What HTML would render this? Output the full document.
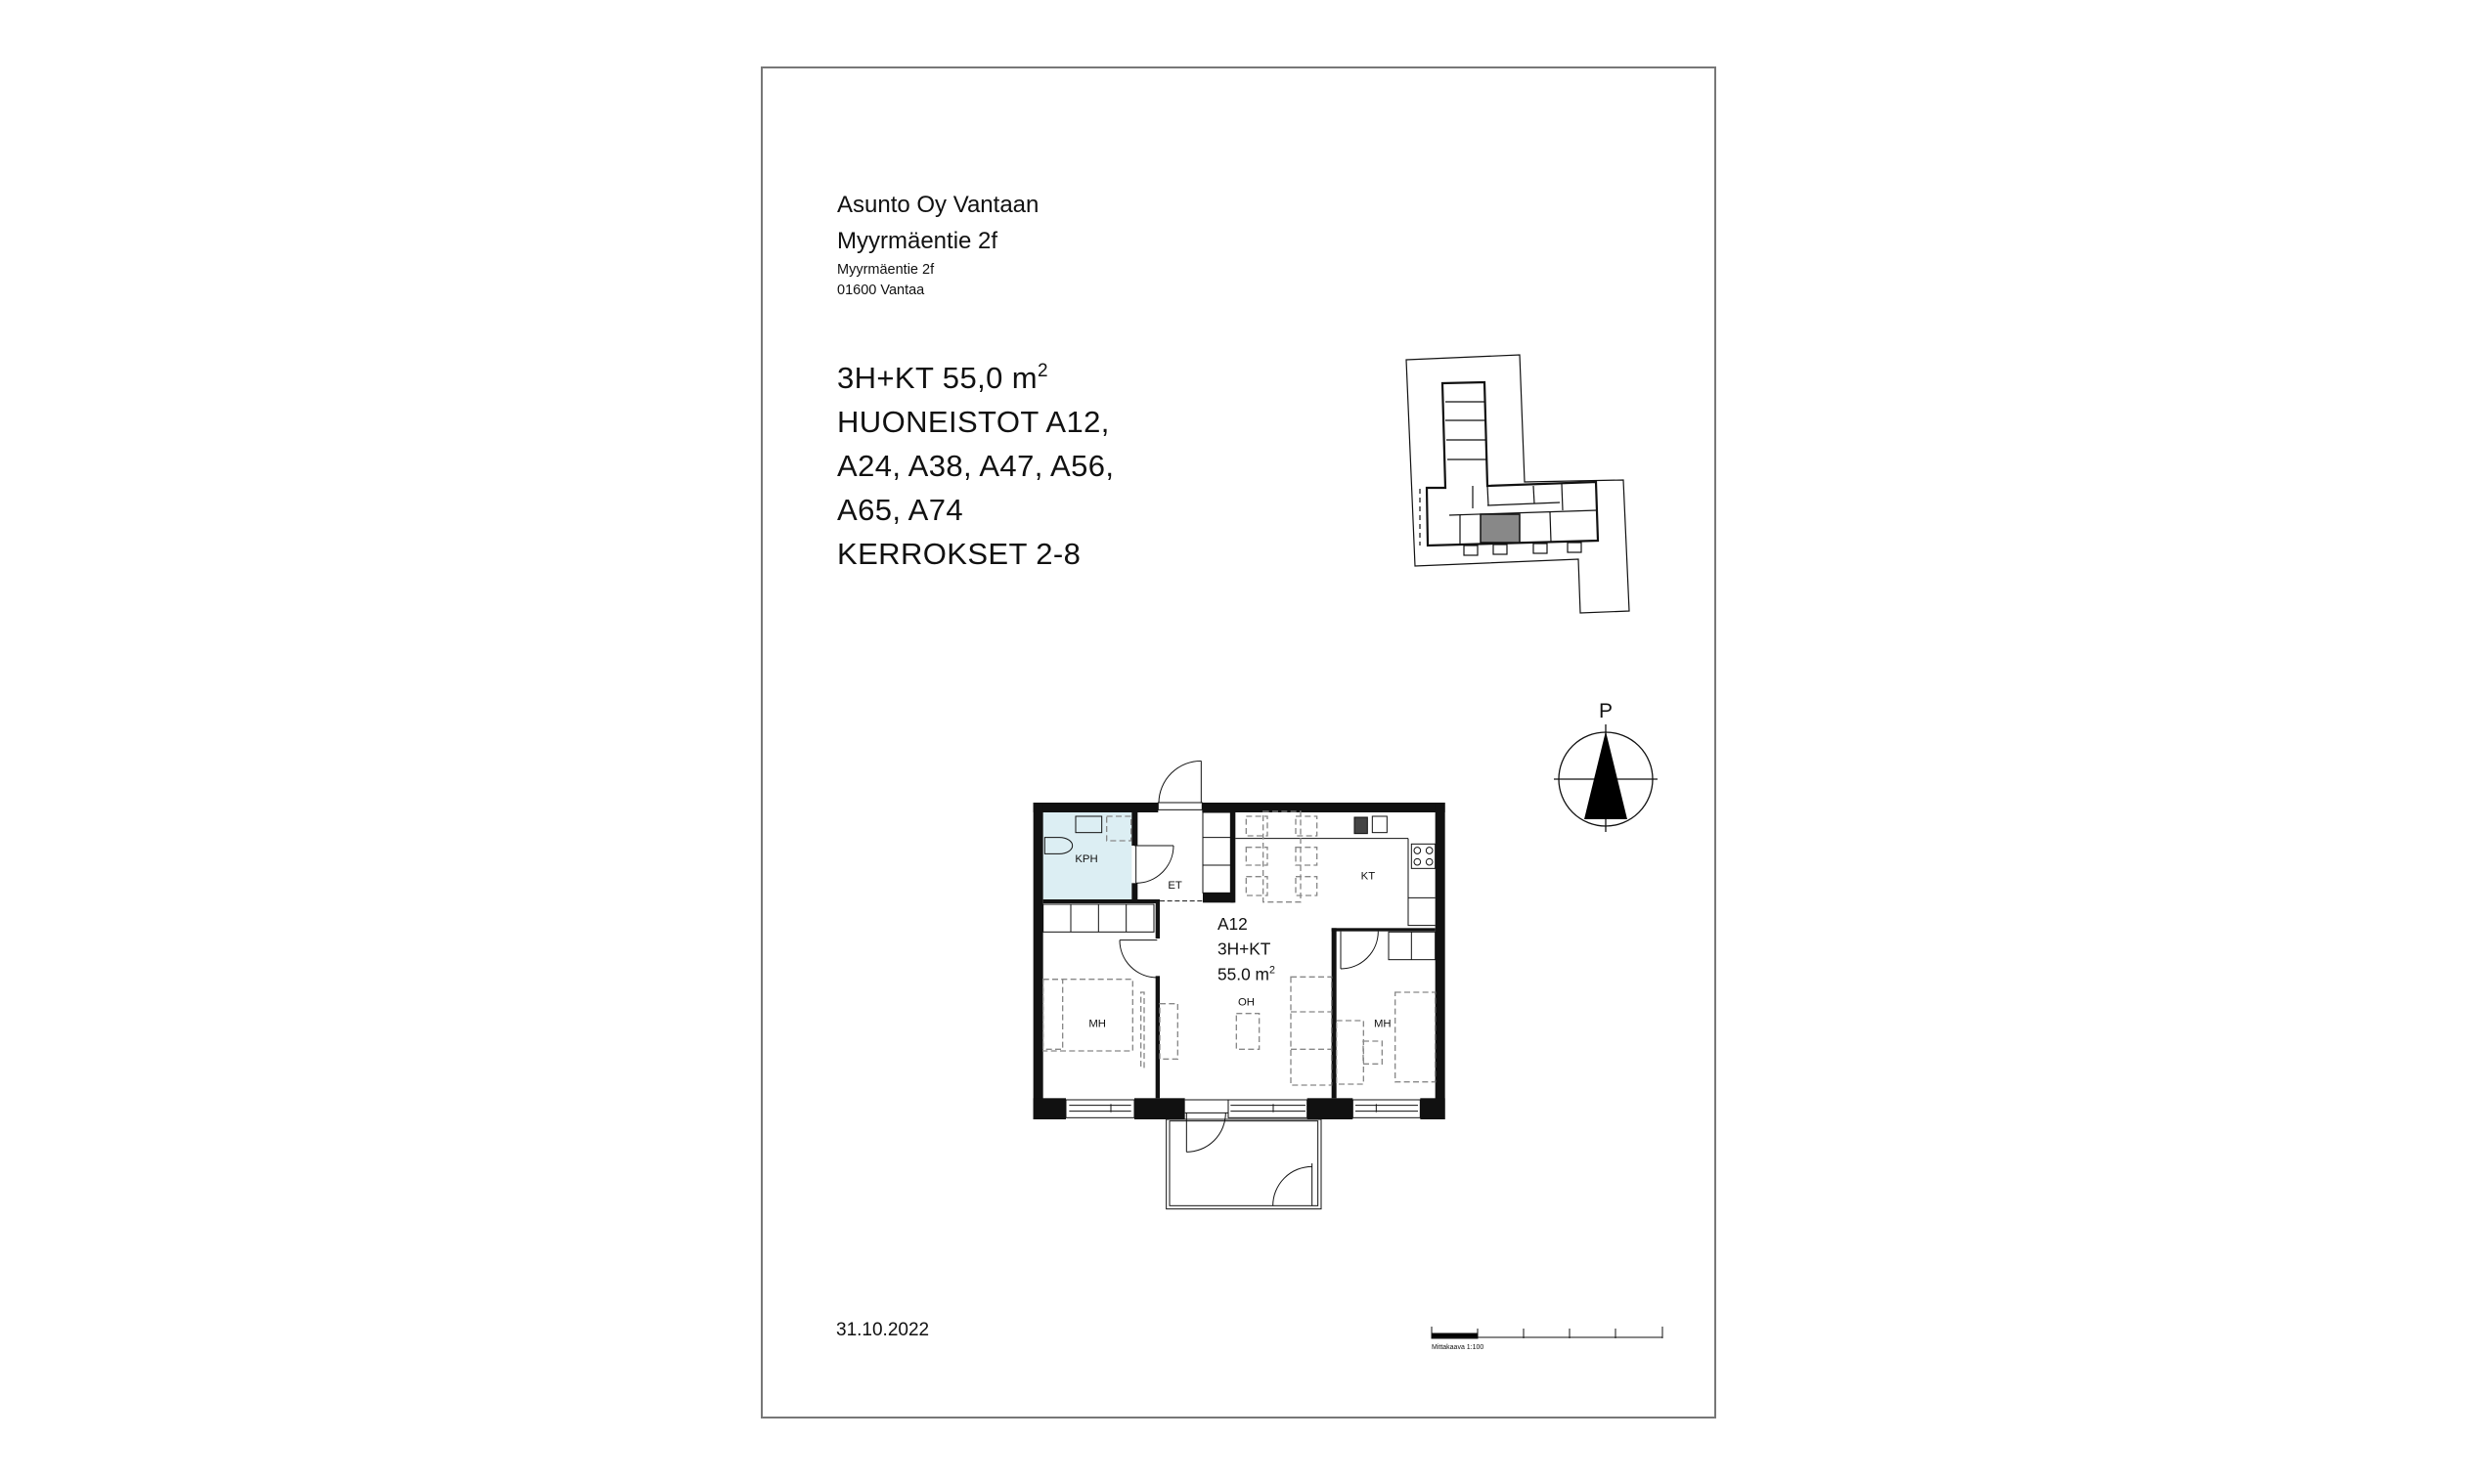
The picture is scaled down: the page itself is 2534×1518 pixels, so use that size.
<!DOCTYPE html>
<html><head><meta charset="utf-8"><style>
html,body{margin:0;padding:0;background:#fff;}
svg{display:block;}
text{font-family:"Liberation Sans",sans-serif;fill:#111;}
</style></head><body>
<svg width="2534" height="1518" viewBox="0 0 2534 1518" xmlns="http://www.w3.org/2000/svg">
<rect x="779" y="69" width="975" height="1381" fill="none" stroke="#777" stroke-width="2"/>

<text x="856" y="217" font-size="24">Asunto Oy Vantaan</text>
<text x="856" y="254" font-size="24">Myyrmäentie 2f</text>
<text x="856" y="280" font-size="14.5">Myyrmäentie 2f</text>
<text x="856" y="301" font-size="14.5">01600 Vantaa</text>

<g letter-spacing="0.4">
<text x="856" y="397" font-size="31">3H+KT 55,0 m<tspan font-size="19" dy="-12">2</tspan></text>
<text x="856" y="442" font-size="31">HUONEISTOT A12,</text>
<text x="856" y="487" font-size="31">A24, A38, A47, A56,</text>
<text x="856" y="532" font-size="31">A65, A74</text>
<text x="856" y="577" font-size="31">KERROKSET 2-8</text>
</g>

<!-- key plan -->
<g fill="none" stroke="#111">
<polygon points="1438,368 1554,363 1559,493 1660,491 1666,625 1616,627 1614,572 1447,579" stroke-width="1.2"/>
<polygon points="1475,392 1518,391 1521,497 1632,493 1634,553 1460,558 1459,499 1478,499" stroke-width="2.2"/>
<rect x="1514" y="526" width="40" height="29" fill="#888" stroke-width="1.5"/>
<line x1="1478" y1="411" x2="1518" y2="411" stroke-width="1.2"/>
<line x1="1478" y1="430" x2="1518" y2="430" stroke-width="1.2"/>
<line x1="1479" y1="450" x2="1519" y2="450" stroke-width="1.2"/>
<line x1="1480" y1="470" x2="1520" y2="470" stroke-width="1.2"/>
<line x1="1521" y1="497" x2="1522" y2="517" stroke-width="1.2"/>
<line x1="1521" y1="517" x2="1595" y2="514" stroke-width="1.2"/>
<line x1="1568" y1="497" x2="1569" y2="515" stroke-width="1.2"/>
<line x1="1597" y1="495" x2="1598" y2="522" stroke-width="1.2"/>
<line x1="1482" y1="527" x2="1633" y2="522" stroke-width="1.2"/>
<line x1="1493" y1="527" x2="1493" y2="556" stroke-width="1.2"/>
<line x1="1585" y1="524" x2="1586" y2="554" stroke-width="1.2"/>
<line x1="1506" y1="497" x2="1506" y2="520" stroke-width="1.2"/>
<line x1="1452" y1="500" x2="1452" y2="558" stroke-width="1.2" stroke-dasharray="5 4"/>
<rect x="1497" y="558" width="14" height="10" stroke-width="1.2"/>
<rect x="1527" y="557" width="14" height="10" stroke-width="1.2"/>
<rect x="1568" y="556" width="14" height="10" stroke-width="1.2"/>
<rect x="1603" y="555" width="14" height="10" stroke-width="1.2"/>
</g>

<!-- compass -->
<text x="1642" y="734" font-size="21" text-anchor="middle">P</text>
<circle cx="1642" cy="797" r="48" fill="none" stroke="#111" stroke-width="1.3"/>
<line x1="1589" y1="797" x2="1695" y2="797" stroke="#111" stroke-width="1.3"/>
<line x1="1642" y1="741" x2="1642" y2="851" stroke="#111" stroke-width="1.3"/>
<polygon points="1642,748 1620,838 1664,838" fill="#000"/>

<!-- date and scale bar -->
<text x="855" y="1366" font-size="19">31.10.2022</text>
<g stroke="#111" stroke-width="1">
<rect x="1464" y="1364" width="47" height="5" fill="#000"/>
<line x1="1464" y1="1368" x2="1700" y2="1368"/>
<line x1="1464" y1="1357" x2="1464" y2="1369"/><line x1="1511" y1="1359" x2="1511" y2="1369"/>
<line x1="1558" y1="1359" x2="1558" y2="1369"/><line x1="1605" y1="1359" x2="1605" y2="1369"/>
<line x1="1652" y1="1359" x2="1652" y2="1369"/><line x1="1700" y1="1357" x2="1700" y2="1369"/>
</g>
<text x="1464" y="1380" font-size="7">Mittakaava 1:100</text>

<!-- floor plan -->
<g transform="translate(1050,760) scale(0.33333)">
<rect x="50" y="213" width="272" height="267" fill="#dceef3"/>
<g fill="#111">
<rect x="20" y="183" width="383" height="30"/>
<rect x="538" y="183" width="745" height="30"/>
<rect x="20" y="183" width="30" height="972"/>
<rect x="1253" y="183" width="30" height="972"/>
<rect x="20" y="1090" width="100" height="65"/>
<rect x="330" y="1090" width="155" height="65"/>
<rect x="860" y="1090" width="140" height="65"/>
<rect x="1207" y="1090" width="76" height="65"/>
<rect x="322" y="213" width="18" height="102"/>
<rect x="322" y="430" width="18" height="62"/>
<rect x="50" y="480" width="358" height="12"/>
<rect x="395" y="480" width="13" height="120"/>
<rect x="395" y="715" width="13" height="375"/>
<rect x="625" y="213" width="15" height="277"/>
<rect x="540" y="460" width="95" height="30"/>
<rect x="935" y="568" width="15" height="522"/>
<rect x="935" y="568" width="318" height="10"/>
</g>
<g fill="none" stroke="#111" stroke-width="3">
<rect x="120" y="1095" width="210" height="55"/><line x1="130" y1="1112" x2="320" y2="1112"/><line x1="130" y1="1130" x2="320" y2="1130"/><line x1="258" y1="1108" x2="258" y2="1133"/>
<rect x="618" y="1095" width="242" height="55"/><line x1="625" y1="1112" x2="855" y2="1112"/><line x1="625" y1="1130" x2="855" y2="1130"/><line x1="756" y1="1108" x2="756" y2="1133"/>
<rect x="1000" y="1095" width="207" height="55"/><line x1="1008" y1="1112" x2="1200" y2="1112"/><line x1="1008" y1="1130" x2="1200" y2="1130"/><line x1="1072" y1="1108" x2="1072" y2="1133"/>
<line x1="485" y1="1095" x2="618" y2="1095"/><line x1="485" y1="1135" x2="618" y2="1135"/>
<rect x="403" y="183" width="135" height="22"/>
<line x1="535" y1="55" x2="535" y2="183"/>
<path d="M405,183 A130,130 0 0 1 535,55"/>
<line x1="335" y1="315" x2="335" y2="430"/>
<path d="M335,430 A115,115 0 0 0 450,315"/>
<line x1="330" y1="315" x2="450" y2="315"/>
<path d="M285,605 A115,115 0 0 0 400,720"/>
<line x1="285" y1="605" x2="400" y2="605"/>
<line x1="963" y1="578" x2="963" y2="693"/>
<path d="M963,693 A115,115 0 0 0 1078,578"/>
<rect x="540" y="213" width="85" height="247"/>
<line x1="540" y1="290" x2="625" y2="290"/><line x1="540" y1="375" x2="625" y2="375"/>
<line x1="340" y1="485" x2="395" y2="485" stroke-dasharray="15 8"/>
<line x1="408" y1="485" x2="540" y2="485" stroke-dasharray="15 8"/>
<rect x="50" y="495" width="340" height="85"/>
<line x1="135" y1="495" x2="135" y2="580"/><line x1="220" y1="495" x2="220" y2="580"/><line x1="305" y1="495" x2="305" y2="580"/>
<line x1="640" y1="293" x2="1170" y2="293"/>
<polyline points="1170,293 1170,560 1253,560"/>
<line x1="1170" y1="475" x2="1253" y2="475"/>
<rect x="1180" y="310" width="73" height="75"/>
<circle cx="1198" cy="330" r="10"/><circle cx="1235" cy="330" r="10"/><circle cx="1198" cy="365" r="10"/><circle cx="1235" cy="365" r="10"/>
<rect x="1060" y="225" width="45" height="50"/>
<rect x="1005" y="228" width="40" height="50" fill="#444"/>
<rect x="1110" y="580" width="143" height="85"/>
<line x1="1180" y1="580" x2="1180" y2="665"/>
<rect x="150" y="225" width="80" height="50"/>
<path d="M55,290 L100,290 A40,25 0 0 1 100,340 L55,340 Z"/>
<rect x="428" y="1155" width="475" height="275"/>
<rect x="438" y="1160" width="455" height="260"/>
<line x1="490" y1="1135" x2="490" y2="1255"/>
<path d="M490,1255 A120,120 0 0 0 610,1135"/>
<line x1="875" y1="1290" x2="875" y2="1420"/>
<path d="M755,1420 A120,120 0 0 1 875,1300"/>
</g>
<g fill="none" stroke="#888" stroke-width="4" stroke-dasharray="18 10">
<rect x="50" y="725" width="275" height="220"/>
<rect x="50" y="725" width="60" height="215"/>
<rect x="408" y="800" width="55" height="170"/>
<rect x="643" y="830" width="70" height="110"/>
<rect x="810" y="718" width="125" height="332"/>
<line x1="810" y1="825" x2="935" y2="825"/><line x1="810" y1="940" x2="935" y2="940"/>
<rect x="950" y="852" width="83" height="195"/>
<rect x="1032" y="915" width="58" height="70"/>
<rect x="1130" y="765" width="123" height="275"/>
<rect x="673" y="225" width="65" height="60"/>
<rect x="825" y="225" width="65" height="60"/>
<rect x="673" y="320" width="65" height="55"/>
<rect x="825" y="320" width="65" height="55"/>
<rect x="673" y="410" width="65" height="58"/>
<rect x="825" y="410" width="65" height="58"/>
<rect x="725" y="210" width="115" height="278"/>
<rect x="350" y="765" width="10" height="230"/>
<rect x="245" y="225" width="75" height="75"/>
</g>
<text x="148" y="366" font-size="34">KPH</text>
<text x="433" y="447" font-size="34">ET</text>
<text x="1025" y="418" font-size="34">KT</text>
<text x="585" y="573" font-size="52">A12</text>
<text x="585" y="650" font-size="52">3H+KT</text>
<text x="585" y="728" font-size="52">55.0 m<tspan font-size="32" dy="-22">2</tspan></text>
<text x="648" y="805" font-size="34">OH</text>
<text x="190" y="872" font-size="34">MH</text>
<text x="1065" y="872" font-size="34">MH</text>
</g>
</svg>
</body></html>
